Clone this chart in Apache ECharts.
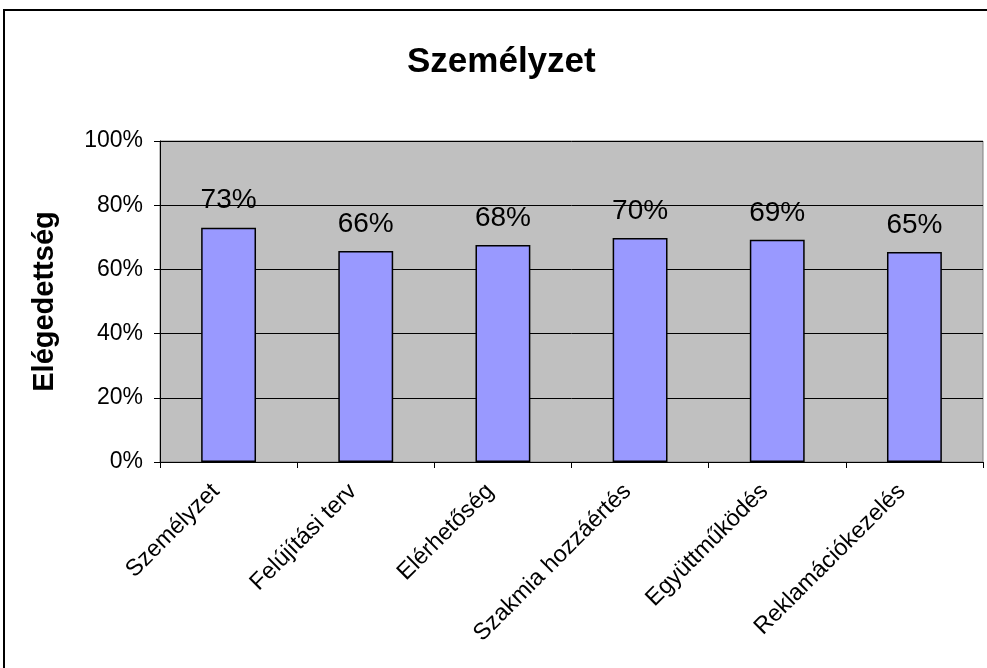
<!DOCTYPE html>
<html>
<head>
    <meta charset="utf-8">
    <script src="https://cdn.jsdelivr.net/npm/echarts@6/dist/echarts.min.js"></script>
</head>
<body style="margin:0">
    <div id="main" style="width: 987px;height:668px;"></div>
    <script type="text/javascript">
        var categories = ['Személyzet', 'Felújítási terv', 'Elérhetőség', 'Szakmia hozzáértés', 'Együttműködés', 'Reklamációkezelés'];
        var values = [0.73, 0.657, 0.676, 0.698, 0.692, 0.654];
        var yTicks = [0, 0.2, 0.4, 0.6, 0.8, 1];

        var myChart = echarts.init(document.getElementById('main'));
        var font = 'Liberation Sans, Arial, sans-serif';

        var option = {
            animation: false,
            backgroundColor: '#fff',
            title: {
                text: 'Személyzet',
                left: 402,
                top: 40,
                textStyle: { fontFamily: font, fontSize: 35, fontWeight: 'bold', color: '#000' }
            },
            graphic: [{
                type: 'rect',
                shape: { x: 4, y: 10, width: 990, height: 680 },
                style: { fill: 'none', stroke: '#000', lineWidth: 2 },
                silent: true
            }],
            grid: {
                left: 160, right: 4, top: 141, bottom: 206,
                show: true,
                backgroundColor: '#C0C0C0',
                borderColor: '#808080',
                borderWidth: 1
            },
            xAxis: {
                type: 'category',
                data: categories,
                axisLine: { lineStyle: { color: '#000', width: 1 } },
                axisTick: { show: true, length: 6, lineStyle: { color: '#000' } },
                axisLabel: {
                    rotate: 45, margin: 30, color: '#000',
                    verticalAlign: 'bottom',
                    padding: [0, 6, 0, 0],
                    fontFamily: font, fontSize: 23.5
                }
            },
            yAxis: {
                type: 'value',
                min: 0, max: 1, interval: 0.2,
                name: 'Elégedettség',
                nameLocation: 'middle',
                nameGap: 101,
                nameTextStyle: { fontFamily: font, fontSize: 29, fontWeight: 'bold', color: '#000' },
                axisLine: { show: true, lineStyle: { color: '#000' } },
                axisTick: { show: true, length: 6, lineStyle: { color: '#000' } },
                splitLine: { lineStyle: { color: '#000', width: 1 } },
                axisLabel: {
                    color: '#000', fontFamily: font, fontSize: 23, margin: 17,
                    formatter: function (v) { return Math.round(v * 100) + '%'; }
                }
            },
            series: [{
                type: 'bar',
                data: values,
                barWidth: '40%',
                itemStyle: { color: '#9999FF', borderColor: '#000', borderWidth: 1.5 },
                label: {
                    show: true, position: 'top', distance: 13,
                    color: '#000', fontFamily: font, fontSize: 28,
                    formatter: function (p) { return Math.round(p.value * 100) + '%'; }
                }
            }]
        };
        myChart.setOption(option);
    </script>
</body>
</html>
